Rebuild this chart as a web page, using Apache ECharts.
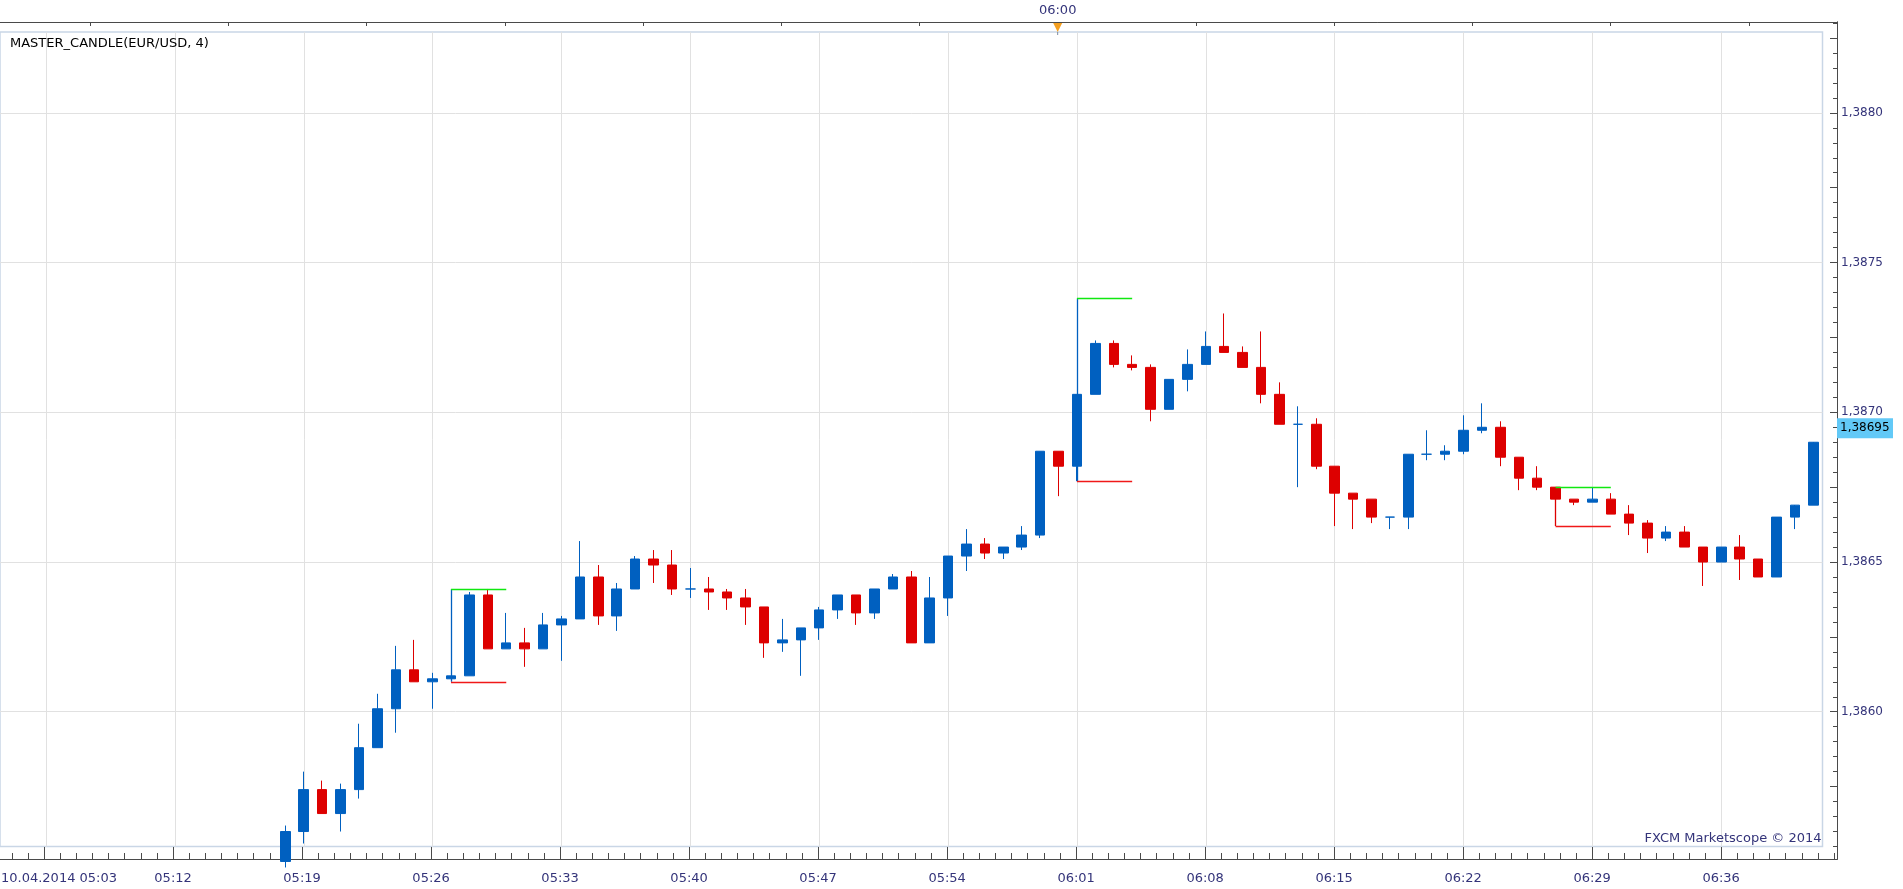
<!DOCTYPE html>
<html>
<head>
<meta charset="utf-8">
<title>MASTER_CANDLE(EUR/USD, 4)</title>
<script src="https://cdn.jsdelivr.net/npm/echarts@6/dist/echarts.min.js"></script>
<style>
  html, body { margin: 0; padding: 0; background: #fff; }
  #chart { width: 1903px; height: 889px; }
</style>
</head>
<body>
<div id="chart"></div>
<script>
// one-minute bars, 10.04.2014
var times = ['05:18','05:19','05:20','05:21','05:22','05:23','05:24','05:25','05:26','05:27','05:28','05:29','05:30','05:31',
  '05:32','05:33','05:34','05:35','05:36','05:37','05:38','05:39','05:40','05:41','05:42','05:43','05:44','05:45',
  '05:46','05:47','05:48','05:49','05:50','05:51','05:52','05:53','05:54','05:55','05:56','05:57','05:58','05:59',
  '06:00','06:01','06:02','06:03','06:04','06:05','06:06','06:07','06:08','06:09','06:10','06:11','06:12','06:13',
  '06:14','06:15','06:16','06:17','06:18','06:19','06:20','06:21','06:22','06:23','06:24','06:25','06:26','06:27',
  '06:28','06:29','06:30','06:31','06:32','06:33','06:34','06:35','06:36','06:37','06:38','06:39','06:40','06:41'];
var opens = [1.38550,1.38560,1.38574,1.38566,1.38574,1.38588,1.38601,1.38614,1.38610,1.38611,1.38612,1.38639,1.38621,1.38623,
  1.38621,1.38629,1.38631,1.38645,1.38632,1.38641,1.38651,1.38649,1.38641,1.38641,1.38640,1.38638,1.38635,1.38623,
  1.38624,1.38628,1.38634,1.38639,1.38633,1.38641,1.38645,1.38623,1.38638,1.38652,1.38656,1.38653,1.38655,1.38659,
  1.38687,1.38682,1.38706,1.38723,1.38716,1.38715,1.38701,1.38711,1.38716,1.38722,1.38720,1.38715,1.38706,1.38696,
  1.38696,1.38682,1.38673,1.38671,1.38665,1.38665,1.38686,1.38686,1.38687,1.38694,1.38695,1.38685,1.38678,1.38675,
  1.38671,1.38670,1.38671,1.38666,1.38663,1.38658,1.38660,1.38655,1.38650,1.38655,1.38651,1.38645,1.38665,1.38669];
var closes = [1.38560,1.38574,1.38566,1.38574,1.38588,1.38601,1.38614,1.38610,1.38611,1.38612,1.38639,1.38621,1.38623,1.38621,
  1.38629,1.38631,1.38645,1.38632,1.38641,1.38651,1.38649,1.38641,1.38641,1.38640,1.38638,1.38635,1.38623,1.38624,
  1.38628,1.38634,1.38639,1.38633,1.38641,1.38645,1.38623,1.38638,1.38652,1.38656,1.38653,1.38655,1.38659,1.38687,
  1.38682,1.38706,1.38723,1.38716,1.38715,1.38701,1.38711,1.38716,1.38722,1.38720,1.38715,1.38706,1.38696,1.38696,
  1.38682,1.38673,1.38671,1.38665,1.38665,1.38686,1.38686,1.38687,1.38694,1.38695,1.38685,1.38678,1.38675,1.38671,
  1.38670,1.38671,1.38666,1.38663,1.38658,1.38660,1.38655,1.38650,1.38655,1.38651,1.38645,1.38665,1.38669,1.38690];
var lows = [1.38548,1.38556,1.38566,1.38560,1.38571,1.38588,1.38593,1.38610,1.38601,1.38611,1.38612,1.38621,1.38621,1.38615,
  1.38621,1.38617,1.38631,1.38629,1.38627,1.38641,1.38643,1.38639,1.38638,1.38634,1.38634,1.38629,1.38618,1.38620,
  1.38612,1.38624,1.38631,1.38629,1.38631,1.38641,1.38623,1.38623,1.38632,1.38647,1.38651,1.38651,1.38654,1.38658,
  1.38672,1.38677,1.38706,1.38715,1.38714,1.38697,1.38701,1.38707,1.38716,1.38720,1.38715,1.38703,1.38696,1.38675,
  1.38681,1.38662,1.38661,1.38663,1.38661,1.38661,1.38684,1.38684,1.38686,1.38693,1.38682,1.38674,1.38674,1.38671,
  1.38669,1.38670,1.38666,1.38659,1.38653,1.38657,1.38655,1.38642,1.38650,1.38644,1.38645,1.38645,1.38661,1.38669];
var highs = [1.38562,1.38580,1.38577,1.38576,1.38596,1.38606,1.38622,1.38624,1.38613,1.38612,1.38640,1.38641,1.38633,1.38628,
  1.38633,1.38632,1.38657,1.38649,1.38643,1.38652,1.38654,1.38654,1.38648,1.38645,1.38641,1.38641,1.38635,1.38631,
  1.38628,1.38635,1.38639,1.38639,1.38641,1.38646,1.38647,1.38645,1.38652,1.38661,1.38658,1.38655,1.38662,1.38687,
  1.38687,1.38706,1.38724,1.38724,1.38719,1.38716,1.38711,1.38721,1.38727,1.38733,1.38722,1.38727,1.38710,1.38702,
  1.38698,1.38682,1.38673,1.38671,1.38665,1.38686,1.38694,1.38689,1.38699,1.38703,1.38697,1.38685,1.38682,1.38675,
  1.38671,1.38675,1.38673,1.38669,1.38664,1.38662,1.38662,1.38655,1.38655,1.38659,1.38651,1.38651,1.38665,1.38670,1.38692];

// master candles found by the indicator (range high / low)
var masterTimes = ['05:27', '06:01', '06:27'];
var masterHighs = [1.38641, 1.38738, 1.38675];
var masterLows = [1.38610, 1.38677, 1.38662];

var tickLabels = ['10.04.2014 05:03','05:12','05:19','05:26','05:33','05:40','05:47','05:54','06:01','06:08','06:15','06:22','06:29','06:36'];
var priceLabels = [1.3860, 1.3865, 1.3870, 1.3875, 1.3880];
var lastPrice = 1.38695;
var sessionMark = '06:00';

var BLUE = '#0060c0', RED = '#dd0000';
var TXT = '#34347a', LINE = '#4a4a4a';
var FONT = 'DejaVu Sans';

var PAD = 15;            // empty bars before 05:18 (05:03 sits on bar 2)
var FIRST_TICK = 2, TICK_STEP = 7;
var NSLOT = PAD + times.length;
var W = 1903, H = 889;
var PLOT = {left: -2, right: 80.5, top: 32, bottom: 42.5};
var FRAME = {left: 0, right: 66, top: 22, bottom: 30};
var yMin = 1.38555, yMax = 1.38827;

// frame axes share the plot's scales, just extended to the outer box
var slotW = (W - PLOT.left - PLOT.right) / NSLOT;
var fxMin = (FRAME.left - PLOT.left) / slotW - 0.5;
var fxMax = (W - FRAME.right - PLOT.left) / slotW - 0.5;
var pxPerUnit = (H - PLOT.bottom - PLOT.top) / (yMax - yMin);
var fyMax = yMax + (PLOT.top - FRAME.top) / pxPerUnit;
var fyMin = yMin - ((H - FRAME.bottom) - (H - PLOT.bottom)) / pxPerUnit;

var slots = [];
for (var i = 0; i < NSLOT; i++) slots.push(i < PAD ? 'pad' + i : times[i - PAD]);

var candleData = times.map(function (t, i) {
  return [t, opens[i], closes[i], lows[i], highs[i]];
});

// tick positions (in bar units / price units)
var majorX = tickLabels.map(function (l, i) { return FIRST_TICK + i * TICK_STEP; });
var minorX = [];
for (var k = -3; FIRST_TICK + k * TICK_STEP / 8 <= fxMax; k++) {
  var v = FIRST_TICK + k * TICK_STEP / 8;
  if (v >= fxMin && k % 8 !== 0) minorX.push(v);
}
var markSlot = PAD + times.indexOf(sessionMark);
var topX = [];
for (var k2 = -10; k2 <= 10; k2++) {
  var tv = markSlot + k2 * 7.5;
  if (tv > fxMin && tv < fxMax) topX.push(tv);
}
var majorY = [], minorY = [];
for (var n = Math.ceil(fyMin / 0.00005); n * 0.00005 <= fyMax; n++) {
  var pv = +(n * 0.00005).toFixed(5);
  if (n % 5 === 0) majorY.push(pv); else minorY.push(pv);
}

var bracketLines = [];
masterTimes.forEach(function (t, i) {
  var idx = times.indexOf(t);
  var end = times[idx + 3];
  var c = closes[idx] >= opens[idx] ? BLUE : RED;
  bracketLines.push([{coord: [t, masterLows[i]], lineStyle: {color: c}}, {coord: [t, masterHighs[i]]}]);
  bracketLines.push([{coord: [t, masterHighs[i]], lineStyle: {color: '#10e810'}}, {coord: [end, masterHighs[i]]}]);
  bracketLines.push([{coord: [t, masterLows[i]], lineStyle: {color: '#f01818'}}, {coord: [end, masterLows[i]]}]);
});

var chart = echarts.init(document.getElementById('chart'));
var lbl = {fontFamily: FONT, fontSize: 13, color: TXT};
var frameLine = {show: true, onZero: false, lineStyle: {color: LINE, width: 1}};
var noLine = {show: false, onZero: false};
var tickStyle = {color: LINE, width: 1};

var option = {
  animation: false,
  backgroundColor: '#fff',
  grid: [
    {left: PLOT.left, right: PLOT.right, top: PLOT.top, bottom: PLOT.bottom,
     show: true, borderColor: '#c9d6e6', borderWidth: 1.5, backgroundColor: 'transparent'},
    {left: FRAME.left, right: FRAME.right, top: FRAME.top, bottom: FRAME.bottom}
  ],
  xAxis: [
    {type: 'category', gridIndex: 0, data: slots, boundaryGap: true,
     axisLine: noLine, axisTick: {show: false}, axisLabel: {show: false}, splitLine: {show: false}},
    {type: 'value', gridIndex: 0, min: -0.5, max: NSLOT - 0.5,
     axisLine: noLine, axisLabel: {show: false},
     axisTick: {show: false, customValues: majorX},
     splitLine: {show: true, lineStyle: {color: '#e1e1e1', width: 1}}},
    {type: 'value', gridIndex: 1, position: 'bottom', min: fxMin, max: fxMax, silent: true,
     axisLine: frameLine,
     axisTick: {show: true, inside: true, length: 12, customValues: majorX, lineStyle: tickStyle},
     axisLabel: Object.assign({show: true, margin: 13, customValues: majorX.slice(1),
       formatter: function (v) { return tickLabels[Math.round((v - FIRST_TICK) / TICK_STEP)]; }}, lbl),
     splitLine: {show: false}},
    {type: 'value', gridIndex: 1, position: 'bottom', min: fxMin, max: fxMax, silent: true,
     axisLine: frameLine,
     axisTick: {show: true, inside: true, length: 6, customValues: minorX, lineStyle: tickStyle},
     axisLabel: {show: false}, splitLine: {show: false}},
    {type: 'value', gridIndex: 1, position: 'top', min: fxMin, max: fxMax, silent: true,
     axisLine: frameLine,
     axisTick: {show: true, inside: true, length: 4, customValues: topX, lineStyle: tickStyle},
     axisLabel: Object.assign({show: true, margin: 5, customValues: [markSlot],
       formatter: function () { return sessionMark; }}, lbl),
     splitLine: {show: false}}
  ],
  yAxis: [
    {type: 'value', gridIndex: 0, position: 'right', min: yMin, max: yMax,
     axisLine: noLine, axisLabel: {show: false},
     axisTick: {show: false, customValues: priceLabels},
     splitLine: {show: true, lineStyle: {color: '#e1e1e1', width: 1}}},
    {type: 'value', gridIndex: 1, position: 'right', min: fyMin, max: fyMax, silent: true,
     axisLine: frameLine,
     axisTick: {show: true, inside: true, length: 7, customValues: majorY, lineStyle: tickStyle},
     axisLabel: {show: true, margin: 4, customValues: priceLabels, fontFamily: FONT, fontSize: 12, color: TXT,
       padding: [3, 0, 0, 0],
       formatter: function (v) { return v.toFixed(4).replace('.', ','); }},
     splitLine: {show: false}},
    {type: 'value', gridIndex: 1, position: 'right', min: fyMin, max: fyMax, silent: true,
     axisLine: frameLine,
     axisTick: {show: true, inside: true, length: 4, customValues: minorY, lineStyle: tickStyle},
     axisLabel: {show: false}, splitLine: {show: false}}
  ],
  series: [{
    name: 'MASTER_CANDLE(EUR/USD, 4)',
    type: 'candlestick',
    xAxisIndex: 0,
    yAxisIndex: 0,
    data: candleData,
    encode: {x: 0, y: [1, 2, 3, 4]},
    barWidth: 10,
    clip: true,
    itemStyle: {color: BLUE, color0: RED, borderColor: BLUE, borderColor0: RED, borderColorDoji: BLUE, borderWidth: 1},
    emphasis: {disabled: true},
    markLine: {
      silent: true, symbol: ['none', 'none'], animation: false,
      label: {show: false}, emphasis: {disabled: true},
      lineStyle: {type: 'solid', width: 1.3},
      data: bracketLines
    }
  }]
};
chart.setOption(option);

// overlay texts and markers, placed through the axes
var tagY = chart.convertToPixel({yAxisIndex: 1}, lastPrice);
var axisX = chart.convertToPixel({xAxisIndex: 2}, fxMax);
var markX = chart.convertToPixel({xAxisIndex: 4}, markSlot);
var frameTop = chart.convertToPixel({yAxisIndex: 1}, fyMax);
var frameBottom = chart.convertToPixel({yAxisIndex: 1}, fyMin);
var plotRight = chart.convertToPixel({xAxisIndex: 1}, NSLOT - 0.5);
var plotBottom = chart.convertToPixel({yAxisIndex: 0}, yMin);

chart.setOption({
  graphic: [
    {type: 'text', left: 10, top: 37, style: {text: 'MASTER_CANDLE(EUR/USD, 4)', fill: '#000', font: '13px "' + FONT + '"'}},
    {type: 'text', x: plotRight - 1, y: plotBottom - 8,
     style: {text: 'FXCM Marketscope \u00a9 2014', fill: TXT, font: '13px "' + FONT + '"', align: 'right', verticalAlign: 'middle'}},
    {type: 'text', x: 1, y: frameBottom + 20,
     style: {text: tickLabels[0], fill: TXT, font: '13px "' + FONT + '"', align: 'left', verticalAlign: 'middle'}},
    {type: 'rect', shape: {x: axisX, y: tagY - 9, width: 56, height: 20}, style: {fill: '#62c9f7'}, z: 50},
    {type: 'text', x: axisX + 3, y: tagY + 1, z: 51,
     style: {text: lastPrice.toFixed(5).replace('.', ','), fill: '#000', font: '12px "' + FONT + '"', verticalAlign: 'middle'}},
    {type: 'polygon', z: 50, shape: {points: [[markX - 4.5, frameTop + 1], [markX + 4.5, frameTop + 1], [markX, frameTop + 10]]},
     style: {fill: '#f5a020'}},
    {type: 'line', z: 50, shape: {x1: markX, y1: frameTop + 10, x2: markX, y2: frameTop + 13}, style: {stroke: '#7a8aa0', lineWidth: 1}}
  ]
});
</script>
</body>
</html>
